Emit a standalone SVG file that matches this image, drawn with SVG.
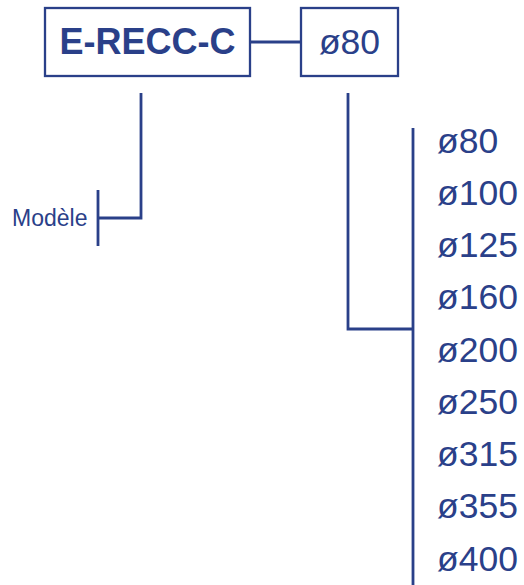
<svg xmlns="http://www.w3.org/2000/svg" width="524" height="585" viewBox="0 0 524 585">
<style>
.box{fill:#fff;stroke:#2a4089;stroke-width:2.3}
.ln{fill:none;stroke:#2a4089;stroke-width:2.8}
text{font-family:"Liberation Sans",Arial,sans-serif;fill:#2a4089}
.lbl{font-size:35.5px}
</style>
<rect width="524" height="585" fill="#fff"/>
<g id="connectors">
<line class="ln" x1="250" y1="42" x2="301" y2="42"/>
<polyline class="ln" points="141,93 141,218 99,218"/>
<line class="ln" x1="98" y1="190" x2="98" y2="246"/>
<polyline class="ln" points="348,93 348,329 413,329"/>
<line class="ln" x1="413" y1="128" x2="413" y2="585"/>
</g>
<g id="node-model">
<rect class="box" x="45" y="8" width="205" height="68"/>
<text x="147.5" y="54" text-anchor="middle" font-size="36" font-weight="bold">E-RECC-C</text>
</g>
<g id="node-dia">
<rect class="box" x="301" y="8" width="97" height="68"/>
<text x="349.5" y="54" text-anchor="middle" class="lbl">ø80</text>
</g>
<g id="label-modele">
<text x="12" y="226" font-size="23">Modèle</text>
</g>
<g id="options">
<text class="lbl" x="437" y="153">ø80</text>
<text class="lbl" x="437" y="205">ø100</text>
<text class="lbl" x="437" y="257">ø125</text>
<text class="lbl" x="437" y="309">ø160</text>
<text class="lbl" x="437" y="362">ø200</text>
<text class="lbl" x="437" y="414">ø250</text>
<text class="lbl" x="437" y="466">ø315</text>
<text class="lbl" x="437" y="518">ø355</text>
<text class="lbl" x="437" y="571">ø400</text>
</g>
</svg>
